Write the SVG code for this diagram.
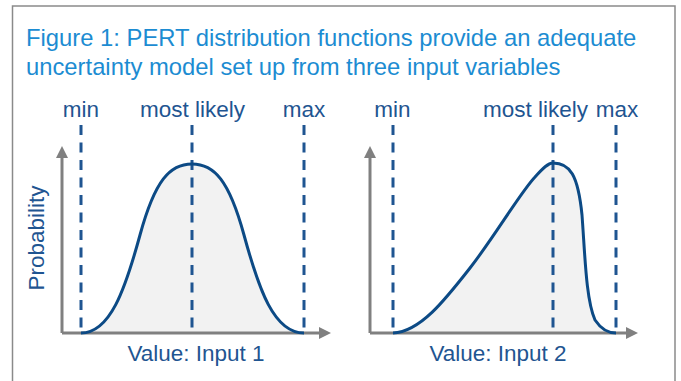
<svg xmlns="http://www.w3.org/2000/svg" width="681" height="381" viewBox="0 0 681 381">
<defs>
<style>
.frame{fill:none;stroke:#8a8a8a;stroke-width:1.5}
.title{font-family:"Liberation Sans",Arial,sans-serif;font-size:23.8px;fill:#1c8cd2}
.lbl{font-family:"Liberation Sans",Arial,sans-serif;font-size:22.5px;fill:#1f5591;text-anchor:middle}
.axis{fill:none;stroke:#808080;stroke-width:3}
.dash{fill:none;stroke:#1f5591;stroke-width:3;stroke-dasharray:10 7.5}
.curve{fill:none;stroke:#0c4a85;stroke-width:3;stroke-linejoin:round}
.area{fill:#f2f2f2;stroke:none}
</style>
<marker id="arr" viewBox="0 0 12 12" refX="1" refY="6" markerWidth="12" markerHeight="12" markerUnits="userSpaceOnUse" orient="auto">
<path d="M0,0 L12,6 L0,12 Z" fill="#808080"/>
</marker>
</defs>
<rect width="681" height="381" fill="#ffffff"/>
<path class="frame" d="M12.5,381 V6 H675 V381"/>
<g id="title">
<text class="title" x="26" y="46">Figure 1: PERT distribution functions provide an adequate</text>
<text class="title" x="26" y="75">uncertainty model set up from three input variables</text>
</g>
<g id="chart1">
<path class="area" d="M81,333 C110,333 125,290 140,235 C155,180 170,164 192,164 C214,164 229,180 244,235 C259,290 274,333 304,333 Z"/>
<text class="lbl" x="81" y="117">min</text>
<text class="lbl" x="192.5" y="117">most likely</text>
<text class="lbl" x="304" y="117">max</text>
<text class="lbl" x="196" y="361">Value: Input 1</text>
<text class="lbl" transform="translate(44,238) rotate(-90)" x="0" y="0">Probability</text>
</g>
<g id="chart2">
<path class="area" d="M393,333 C420,332 445,300 470,268 C495,236 520,193 535,177 C543,168 548,163 553,163 C570,163 578,175 582,215 C585,255 586,300 595,320 C603,332 612,333 616,333 Z"/>
<text class="lbl" x="392.5" y="117">min</text>
<text class="lbl" x="535.5" y="117">most likely</text>
<text class="lbl" x="617" y="117">max</text>
<text class="lbl" x="498" y="361">Value: Input 2</text>
</g>
<g id="connectors">
<path class="axis" d="M62,333 V157" marker-end="url(#arr)"/>
<path class="axis" d="M62,333 H320" marker-end="url(#arr)"/>
<path class="axis" d="M370,333 V157" marker-end="url(#arr)"/>
<path class="axis" d="M370,333 H627" marker-end="url(#arr)"/>
<path class="dash" d="M81,125 V333"/>
<path class="dash" d="M192,125 V333"/>
<path class="dash" d="M304,125 V333"/>
<path class="dash" d="M393,125 V333"/>
<path class="dash" d="M553,125 V333"/>
<path class="dash" d="M616,125 V333"/>
<path class="curve" d="M81,333 C110,333 125,290 140,235 C155,180 170,164 192,164 C214,164 229,180 244,235 C259,290 274,333 304,333"/>
<path class="curve" d="M393,333 C420,332 445,300 470,268 C495,236 520,193 535,177 C543,168 548,163 553,163 C570,163 578,175 582,215 C585,255 586,300 595,320 C603,332 612,333 616,333"/>
</g>
</svg>
